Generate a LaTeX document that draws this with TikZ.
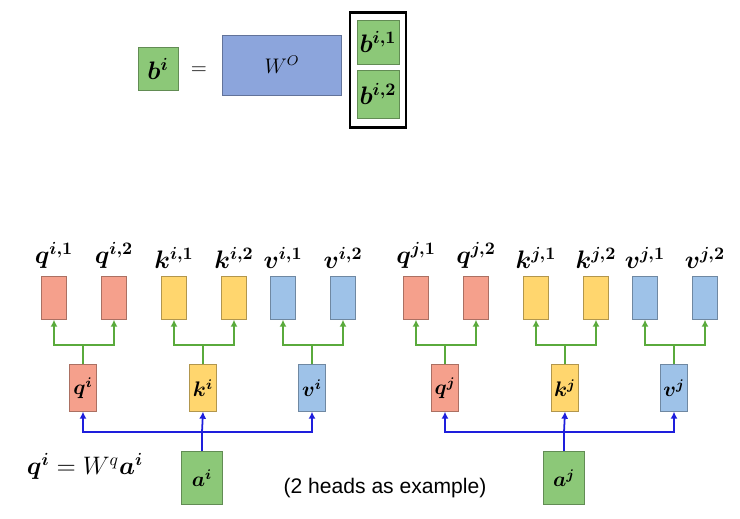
\documentclass[tikz,border=0pt]{standalone}
\usepackage{bm}
\usepackage{fontspec}
\newfontfamily\capfont{Liberation Sans}
\usetikzlibrary{arrows.meta}
\definecolor{qBg}{RGB}{245,160,140}
\definecolor{kBg}{RGB}{255,214,110}
\definecolor{vBg}{RGB}{158,194,232}
\definecolor{aBg}{RGB}{140,200,120}
\definecolor{wBg}{RGB}{140,165,220}
\definecolor{gLine}{RGB}{90,170,60}
\definecolor{bLine}{RGB}{30,30,220}
\tikzset{
  cell/.style={draw=#1!70!black, fill=#1, line width=0.3pt, minimum width=25\unit, minimum height=43\unit, inner sep=0pt},
  head/.style={cell=#1, minimum width=27\unit, minimum height=47\unit, font=\large},
  lbl/.style={font=\Large},
  garr/.style={gLine, line width=1pt, -{Latex[length=4pt,width=4pt]}},
  barr/.style={bLine, line width=1pt, -{Latex[length=4pt,width=4pt]}}
}
\newcommand{\unit}{pt*0.5669}
% one group of heads: #1 = x offset, #2 = index (i or j)
\newcommand{\headgroup}[2]{
  \node[head=qBg] (q#2) at (83+#1,388) {$\bm{q^{#2}}$};
  \node[head=kBg] (k#2) at (203+#1,388) {$\bm{k^{#2}}$};
  \node[head=vBg] (v#2) at (312+#1,388) {$\bm{v^{#2}}$};
  \node[head=aBg, minimum width=41\unit, minimum height=53\unit] (a#2) at (202+#1,478) {$\bm{a^{#2}}$};
  \foreach \n/\c/\x in {q/qBg/54, k/kBg/174, v/vBg/283}
  {
    \node[cell=\c] (\n#21) at (\x+#1,298) {};
    \node[cell=\c] (\n#22) at (\x+60+#1,298) {};
    \node[lbl, above=1pt] at (\n#21.north) {$\bm{\n^{#2,1}}$};
    \node[lbl, above=1pt] at (\n#22.north) {$\bm{\n^{#2,2}}$};
    \coordinate (\n#2j) at (\n#2.north |- 0,345);
    \draw[gLine, line width=1pt] (\n#2.north) -- (\n#2j);
    \draw[garr] (\n#2j) -| (\n#21.south);
    \draw[garr] (\n#2j) -| (\n#22.south);
  }
  \coordinate (a#2j) at (a#2.north |- 0,432);
  \draw[bLine, line width=1pt] (a#2.north) -- (a#2j);
  \draw[barr] (a#2j) -| (q#2.south);
  \draw[barr] (a#2j) -| (v#2.south);
  \draw[barr] (a#2j) -- (k#2.south);
}
\begin{document}
\begin{tikzpicture}[x=0.02cm, y=-0.02cm]
  \useasboundingbox (0,0) rectangle (740,519);
  % top: concatenation of heads
  \node[cell=aBg, minimum width=40\unit, minimum height=43\unit, font=\Large] (bi) at (158,69) {$\bm{b^i}$};
  \node[font=\large] (eq) at (199,71) {=};
  \node[cell=wBg, minimum width=119\unit, minimum height=60\unit] (wo) at (282,65) {\large$W^O$};
  \node[draw=black, line width=1.5pt, minimum width=56\unit, minimum height=115\unit] (frame) at (378,70) {};
  \node[cell=aBg, minimum width=42\unit, minimum height=44\unit] (bi1) at (378,42) {\Large$\bm{b^{i,1}}$};
  \node[cell=aBg, minimum width=42\unit, minimum height=48\unit] (bi2) at (378,94) {\Large$\bm{b^{i,2}}$};
  % bottom: two positions
  \headgroup{0}{i}
  \headgroup{362}{j}
  \node[font=\Large] (eqn) at (85,466) {$\bm{q^i} = W^q\bm{a^i}$};
  \node[font=\capfont\large] (note) at (385,488) {(2 heads as example)};
\end{tikzpicture}
\end{document}
